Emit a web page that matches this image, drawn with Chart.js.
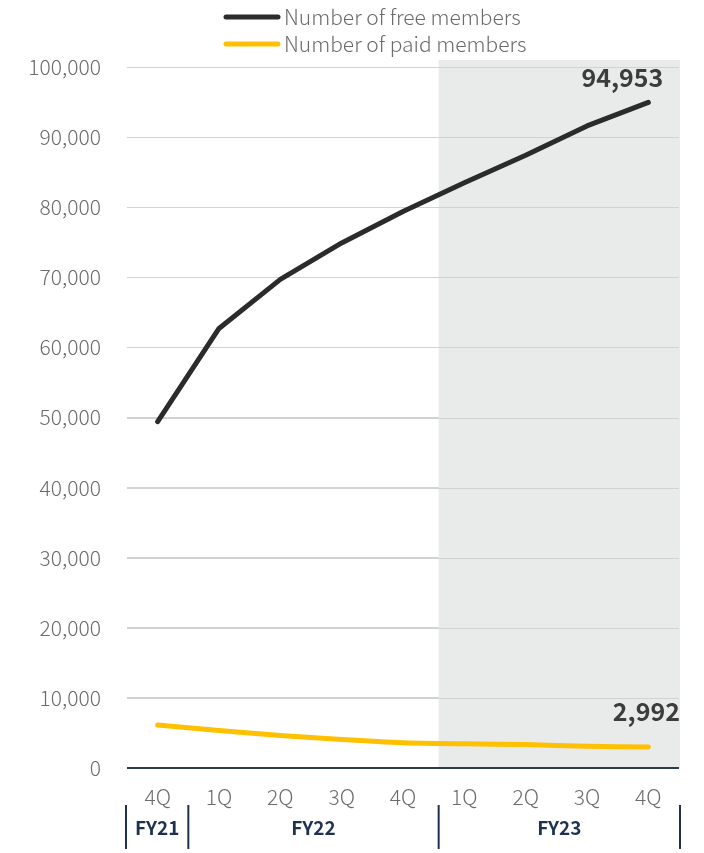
<!DOCTYPE html>
<html><head><meta charset="utf-8">
<script src="https://cdn.jsdelivr.net/npm/chart.js@4/dist/chart.umd.min.js"></script>
<style>html,body{margin:0;padding:0;background:#fff}#wrap{width:704px;height:853px}</style>
</head><body><div id="wrap"><canvas id="c" width="704" height="853"></canvas></div>
<script>
const quarters = ["4Q","1Q","2Q","3Q","4Q","1Q","2Q","3Q","4Q"];
const fiscalYears = ["FY21","FY22","FY23"];
const freeMembers = [49400, 62700, 69700, 74900, 79400, 83500, 87400, 91600, 94953];
const paidMembers = [6150, 5350, 4650, 4050, 3600, 3450, 3350, 3100, 2992];
const seriesNames = ["Number of free members","Number of paid members"];
const yTicks = [0,10000,20000,30000,40000,50000,60000,70000,80000,90000,100000];

const FONT = "'Noto Sans CJK JP','Noto Sans',sans-serif";
const NAVY = "#1e3250";

const bgPlugin = {
  id:'bg',
  beforeDatasetsDraw(chart){
    const {ctx, chartArea:a, scales:{x}} = chart;
    const xs = (x.getPixelForValue(4)+x.getPixelForValue(5))/2 + 5;
    ctx.save();
    ctx.fillStyle = "#e9eaea";
    ctx.fillRect(xs, a.top-7, a.right+1-xs, a.bottom-(a.top-7));
    const y = chart.scales.y;
    ctx.strokeStyle = "#d2d2d2"; ctx.lineWidth = 1;
    yTicks.forEach(v=>{ if(v===0) return; const py=Math.round(y.getPixelForValue(v))+0.5;
      ctx.beginPath(); ctx.moveTo(a.left,py); ctx.lineTo(a.right,py); ctx.stroke(); });
    ctx.restore();
  },
  afterDraw(chart){
    const {ctx, chartArea:a, scales:{x,y}} = chart;
    ctx.save();
    ctx.strokeStyle = "#2b3b56"; ctx.lineWidth = 2;
    ctx.beginPath(); ctx.moveTo(a.left, a.bottom); ctx.lineTo(a.right, a.bottom); ctx.stroke();
    const xs = (x.getPixelForValue(4)+x.getPixelForValue(5))/2 + 5;
    const seps = [a.left-1, (x.getPixelForValue(0)+x.getPixelForValue(1))/2, xs, a.right+1];
    ctx.strokeStyle = NAVY; ctx.lineWidth = 2;
    seps.forEach(px=>{ ctx.beginPath(); ctx.moveTo(px, 805); ctx.lineTo(px, 849); ctx.stroke(); });
    ctx.fillStyle = NAVY; ctx.font = "bold 19px " + FONT; ctx.textAlign='center'; ctx.textBaseline='middle';
    fiscalYears.forEach((fy,i)=>{ ctx.fillText(fy, (seps[i]+seps[i+1])/2, 828); });
    ctx.fillStyle = "#3c3c3c"; ctx.font = "bold 25px " + FONT; ctx.textAlign='right';
    const m0 = chart.getDatasetMeta(0).data, m1 = chart.getDatasetMeta(1).data;
    const last = freeMembers.length-1;
    ctx.fillText(freeMembers[last].toLocaleString('en-US'), m0[last].x+15, m0[last].y-25);
    ctx.fillText(paidMembers[last].toLocaleString('en-US'), a.right+1, m1[last].y-36);
    const colors = ["#2b2b2b","#ffc000"];
    ctx.font = "300 21px " + FONT; ctx.textAlign='left'; ctx.fillStyle="#6b6b6b";
    seriesNames.forEach((n,i)=>{
      const yy = 17 + i*27;
      ctx.strokeStyle = colors[i]; ctx.lineWidth = 5; ctx.lineCap='round';
      ctx.beginPath(); ctx.moveTo(226, yy); ctx.lineTo(278, yy); ctx.stroke();
      ctx.fillText(n, 284, yy);
    });
    ctx.restore();
  }
};

new Chart(document.getElementById('c'), {
  type:'line',
  data:{ labels: quarters, datasets:[
    {label:seriesNames[0], data:freeMembers, borderColor:"#2b2b2b", borderWidth:5, pointRadius:0, tension:0, borderCapStyle:'round', borderJoinStyle:'round'},
    {label:seriesNames[1], data:paidMembers, borderColor:"#ffc000", borderWidth:5, pointRadius:0, tension:0.2, borderCapStyle:'round', borderJoinStyle:'round'}
  ]},
  options:{
    responsive:false, animation:false, devicePixelRatio:1,
    layout:{padding:{top:67,right:25,left:0,bottom:0}},
    plugins:{legend:{display:false}, tooltip:{enabled:false}},
    scales:{
      x:{ offset:true, grid:{display:false, drawTicks:false}, border:{display:false},
          ticks:{color:"#6b6b6b", font:{family:FONT,size:21,weight:300}, padding:16},
          afterFit(s){ s.height = 853-768; } },
      y:{ min:0, max:100000, grid:{color:"#d2d2d2", drawTicks:false}, border:{display:false},
          afterBuildTicks(s){ s.ticks = yTicks.map(v=>({value:v})); },
          ticks:{color:"#6b6b6b", font:{family:FONT,size:21,weight:300}, padding:26,
                 callback:v=>v.toLocaleString('en-US')},
          afterFit(s){ s.width = 127; } }
    }
  },
  plugins:[bgPlugin]
});
</script></body></html>
